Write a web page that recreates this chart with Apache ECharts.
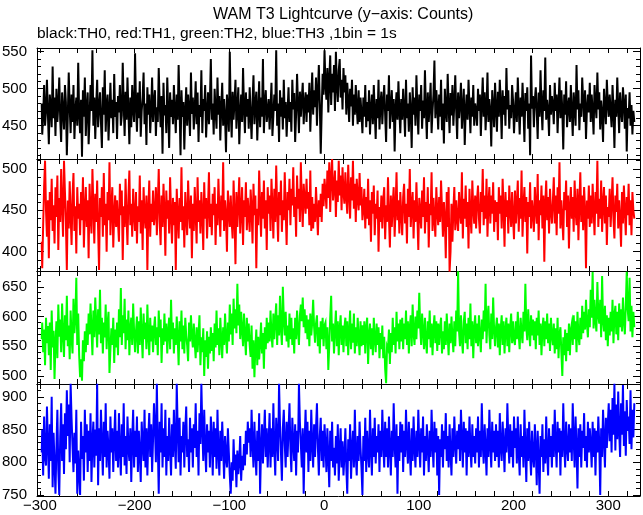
<!DOCTYPE html>
<html>
<head>
<meta charset="utf-8">
<script src="https://cdn.jsdelivr.net/npm/echarts@6/dist/echarts.min.js"></script>
<style>
html,body{margin:0;padding:0;background:#fff;}
#c{width:643px;height:515px;}
</style>
</head>
<body>
<div id="c"></div>
<script>
// ---- data (1 s bins, first bin centred at t = -298 s) ----
const binStart = -298;
const seriesNames = ['TH0', 'TH1', 'TH2', 'TH3'];
const seriesColors = ['#000000', '#ff0000', '#00ff00', '#0000ff'];

const th0 = [
480,438,462,505,450,470,512,466,425,492,475,448,530,460,488,436,500,455,478,515,
458,428,495,470,445,505,482,410,462,522,475,440,492,455,505,432,470,488,450,535,
466,440,485,408,498,462,515,436,475,495,425,460,505,470,552,450,488,432,478,512,
448,475,495,455,420,502,465,525,442,478,492,430,470,508,460,485,440,520,462,482,
432,490,468,505,450,464,535,480,436,496,458,515,470,425,488,448,505,472,455,548,
478,442,495,460,510,435,470,488,522,452,480,424,502,465,492,440,470,515,455,482,
498,436,475,455,528,480,448,490,412,508,464,478,440,515,470,420,495,462,485,452,
505,470,440,492,458,532,475,410,498,462,482,418,470,502,450,492,470,436,522,466,
488,445,472,510,452,495,428,478,462,525,440,486,470,505,434,468,495,452,482,540,
458,480,438,500,470,446,515,465,490,430,474,508,450,486,462,414,492,470,442,550,
470,434,496,458,482,512,446,475,502,425,466,492,455,528,474,440,495,462,486,446,
502,465,432,482,518,452,478,496,430,470,510,448,488,462,540,440,480,498,455,470,
486,445,475,508,436,464,492,470,552,450,480,428,498,462,488,445,512,460,482,435,
470,502,455,482,442,512,472,494,428,466,520,478,440,496,462,486,508,452,480,495,
455,492,468,508,442,485,522,465,498,475,515,450,495,532,480,412,470,520,492,552,
505,485,528,468,512,545,478,520,495,532,470,550,505,482,525,540,488,512,472,528,
495,518,465,508,485,455,500,476,512,450,492,465,505,475,452,498,455,488,466,440,
488,462,505,448,482,456,498,438,474,492,452,505,470,432,486,460,512,445,478,496,
452,482,505,465,428,492,470,518,446,478,498,455,486,415,474,495,458,510,470,440,
486,458,500,472,435,512,460,480,442,495,470,420,502,465,488,450,518,474,438,492,
470,505,446,484,460,525,472,432,495,455,480,508,440,470,492,538,460,498,476,445,
492,462,512,444,480,426,500,470,455,520,476,440,494,464,505,450,480,518,470,432,
495,460,480,508,446,474,500,424,470,492,458,512,476,440,488,462,505,450,480,470,
450,500,470,492,436,480,515,462,495,444,474,522,455,486,470,422,498,476,448,508,
474,442,496,462,512,480,432,498,465,490,450,528,472,498,446,478,460,505,484,440,
470,495,455,515,476,438,488,462,508,472,428,494,470,502,446,480,410,545,473,490,
448,485,502,470,432,495,462,525,476,444,498,470,542,458,485,470,436,505,465,490,
478,452,508,470,492,440,480,515,460,498,472,418,492,465,510,448,476,488,455,505,
470,436,495,476,450,532,472,498,444,480,462,515,484,455,498,432,474,492,468,508,
455,492,470,438,505,480,460,522,472,495,445,484,466,428,500,476,452,512,480,462,
492,470,448,505,472,420,485,462,515,476,440,495,470,455,502,480,446,492,415,474,
460,495,450,478,438,470,455
];

const th1 = [
412,380,432,478,510,450,418,462,392,472,438,488,425,456,410,478,442,492,402,465,
436,500,455,418,510,472,436,378,462,428,485,445,408,468,495,425,455,398,478,440,
458,420,472,438,490,405,452,478,430,462,392,482,445,422,500,455,410,470,436,486,
428,378,465,442,478,418,495,432,458,400,472,438,508,420,455,478,405,446,468,430,
462,436,412,482,444,474,390,455,430,488,442,408,466,498,432,458,418,476,445,425,
472,410,455,436,492,422,462,402,478,444,428,468,378,450,486,418,458,436,474,432,
446,478,420,458,500,436,408,468,430,482,450,395,474,440,462,422,490,445,410,465,
432,460,378,476,444,416,465,436,502,426,455,405,472,442,420,486,450,428,468,392,
458,425,478,445,410,490,436,462,422,472,446,402,484,440,465,416,452,496,430,458,
420,470,444,478,408,458,432,488,450,418,468,438,508,425,462,444,400,474,450,430,
468,436,416,486,446,385,472,430,458,490,422,450,478,408,462,442,484,426,465,444,
424,475,452,410,482,444,468,380,452,432,498,456,418,472,440,486,428,462,402,478,
446,468,425,488,455,416,476,436,504,452,412,472,444,486,424,462,438,496,450,408,
472,450,488,432,476,456,502,442,466,418,492,452,476,436,508,460,430,482,462,446,
488,452,472,432,498,425,466,428,458,436,478,450,420,462,442,470,436,482,455,488,
472,452,498,465,508,448,490,512,462,478,498,442,486,460,510,468,492,450,502,472,
458,496,466,446,505,472,440,490,462,510,452,482,436,488,466,450,495,456,478,438,
452,476,428,466,440,488,432,462,412,472,446,480,420,458,440,474,400,454,436,468,
428,462,478,415,456,436,490,442,405,468,430,458,478,418,452,496,438,462,422,472,
446,420,466,482,434,458,410,476,442,500,430,455,472,416,462,436,484,444,402,465,
450,428,474,442,490,422,460,436,478,405,458,444,496,425,465,440,418,478,448,432,
466,436,486,452,418,460,440,392,472,430,478,376,400,458,412,450,478,426,462,440,
425,472,448,434,496,416,464,440,480,430,460,404,476,446,422,486,452,434,468,428,
462,480,440,422,472,448,500,432,468,440,488,418,458,478,434,468,446,484,424,462,
436,460,414,478,446,468,428,488,452,406,472,442,462,422,480,450,430,472,442,415,
474,434,458,486,424,465,440,498,418,455,478,436,466,398,460,442,484,428,462,446,
424,478,452,434,494,414,462,444,480,428,468,388,458,486,438,466,422,476,450,434,
460,490,434,468,420,478,446,508,428,462,440,414,472,450,486,430,468,404,454,478,
440,466,424,486,450,432,476,414,458,496,436,468,426,478,450,380,462,440,480,430,
468,434,482,452,420,472,446,510,430,464,440,486,424,458,478,434,468,408,454,442,
476,430,458,490,440,416,468,448,482,428,462,440,406,472,434,480,450,420,466,444,
482,432,462,420,472,450,440
];

const th2 = [
562,590,540,578,518,598,555,584,535,590,510,610,548,576,495,556,592,530,620,566,
595,540,622,572,532,602,560,635,550,585,528,610,565,538,630,572,598,665,552,605,
535,498,528,492,560,525,575,540,588,552,605,570,622,580,535,610,565,632,588,548,
612,570,645,555,598,538,590,565,620,545,588,608,505,545,580,552,598,522,578,548,
590,535,612,565,648,552,602,572,630,545,595,560,610,535,580,598,552,622,575,540,
575,600,538,592,552,615,570,530,605,562,590,545,620,568,535,598,558,585,540,580,
600,552,582,535,610,565,595,522,580,552,605,558,588,538,575,598,545,628,562,590,
538,580,552,600,565,518,592,558,610,545,585,538,598,568,552,525,590,558,602,566,
548,588,555,530,582,540,570,602,518,565,540,580,500,560,532,575,512,566,538,582,
542,572,525,588,548,610,552,580,535,598,562,530,582,552,605,565,538,590,558,620,
570,605,552,630,580,612,572,655,585,620,562,608,578,550,605,568,535,598,558,588,
552,532,585,512,560,498,548,578,518,566,528,555,590,538,572,512,582,545,598,555,
590,558,610,570,548,605,562,595,622,552,602,568,635,580,552,650,595,568,608,558,
585,548,605,562,598,552,580,538,598,562,610,578,552,602,620,592,632,582,612,572,
602,562,595,550,605,568,590,628,582,556,588,602,550,582,538,592,562,598,550,585,
590,545,582,510,552,598,635,558,588,538,578,610,550,592,535,580,602,552,585,540,
582,598,550,592,535,575,610,545,588,556,605,538,582,550,598,565,535,592,550,585,
552,592,538,582,598,520,570,588,545,580,535,598,562,540,588,552,582,530,572,545,
585,530,566,512,488,550,545,578,520,572,540,598,552,582,538,608,558,588,545,595,
558,598,545,588,562,610,552,592,538,582,602,550,620,572,552,600,562,610,580,640,
582,552,605,575,545,598,558,538,592,562,610,548,588,535,580,602,555,592,542,588,
552,582,598,538,575,545,592,552,605,568,535,588,555,600,565,540,592,550,610,575,
676,575,550,602,562,538,592,608,555,588,545,598,562,622,550,592,530,580,602,555,
588,550,602,568,540,595,562,610,575,655,555,598,618,568,545,605,562,632,578,550,
582,598,548,588,535,580,602,552,592,538,578,598,550,588,540,582,605,555,592,562,
552,592,562,608,568,545,598,572,555,608,575,655,582,560,612,578,550,602,568,595,
560,592,545,598,568,610,552,588,535,580,598,550,592,562,605,555,588,542,598,568,
552,588,538,580,545,598,530,570,582,540,500,565,535,578,525,572,542,588,535,578,
588,552,602,562,592,540,608,568,552,598,562,618,572,608,578,628,588,565,612,582,
645,598,675,580,628,592,575,658,602,588,628,565,668,592,575,618,560,602,550,598,
568,608,575,628,555,602,618,570,608,560,622,582,612,575,632,592,570,618,675,612,
592,665,575,618,565,608,582
];

const th3 = [
815,850,780,870,808,795,885,828,775,858,802,900,762,845,798,752,822,880,788,750,
838,890,802,858,782,875,820,910,840,888,800,920,866,825,785,845,798,880,752,818,
782,750,862,805,840,772,880,815,858,785,848,802,875,770,832,862,792,850,810,920,
765,852,802,880,828,780,862,808,890,792,848,820,775,870,815,852,785,835,880,802,
848,792,875,820,780,858,808,890,795,840,782,870,822,802,852,770,835,880,792,848,
808,870,785,848,815,770,862,828,802,880,792,852,780,838,875,808,858,785,835,890,
852,800,920,828,752,862,815,890,792,852,808,880,780,840,802,868,822,780,858,808,
880,828,790,920,852,800,868,780,840,815,862,792,848,885,808,835,785,868,815,852,
792,858,822,890,808,848,780,875,828,920,852,802,880,822,785,858,815,848,792,870,
835,780,862,808,852,790,880,815,780,848,802,862,822,775,840,808,792,852,815,780,
752,800,772,835,788,812,762,818,782,800,840,772,810,788,828,795,848,812,862,830,
852,808,880,828,792,862,815,780,848,802,875,752,822,858,798,840,880,808,852,792,
832,875,792,852,808,890,822,780,868,838,802,920,858,815,772,852,880,828,792,862,
808,848,890,822,785,868,830,802,858,780,848,815,920,862,828,792,852,752,832,880,
815,862,785,848,802,880,828,792,858,808,852,890,822,780,840,868,802,848,792,858,
828,785,852,808,762,848,802,862,792,822,780,840,798,858,772,818,852,792,832,780,
810,852,792,752,835,802,858,775,822,848,792,880,810,780,840,802,862,822,792,750,
840,802,868,785,848,815,792,880,822,780,852,808,868,798,840,815,858,785,848,808,
880,830,792,862,808,852,792,870,822,780,848,808,890,828,792,858,752,840,802,862,
815,858,785,848,808,880,828,798,862,815,780,852,802,870,822,792,848,808,880,828,
792,852,815,870,780,840,802,858,822,785,848,808,880,828,792,862,815,852,780,840,
750,835,808,858,792,848,820,875,802,840,792,858,815,780,852,808,870,828,798,848,
820,858,802,880,835,792,862,815,852,780,848,808,870,822,792,858,808,840,798,852,
815,870,792,848,808,890,828,798,858,822,780,852,808,880,828,792,862,815,848,802,
858,808,848,792,875,822,802,862,828,785,852,815,890,835,798,858,808,848,792,870,
822,852,798,870,815,780,858,808,840,792,880,822,770,852,802,862,815,780,848,808,
792,858,822,765,848,802,752,840,808,858,785,835,798,870,815,780,852,808,840,792,
858,808,880,828,792,862,815,852,780,848,808,890,828,792,862,822,802,858,815,852,
802,890,835,792,870,822,760,852,808,858,792,848,822,875,802,840,792,862,815,852,
828,792,862,808,852,780,848,815,870,828,750,852,808,880,835,792,868,822,858,890,
832,880,815,898,842,920,818,888,835,908,848,808,890,842,918,825,878,810,895,848,
870,828,910,820,880,838,890
];

// ---- axis labels ----
const xTickLabels = [-300, -200, -100, 0, 100, 200, 300];
const yTickLabels = [
  [450, 500, 550],
  [400, 450, 500],
  [500, 550, 600, 650],
  [750, 800, 850, 900]
];
const titleText = 'WAM T3 Lightcurve (y\u2212axis: Counts)';
const subtitleText = 'black:TH0, red:TH1, green:TH2, blue:TH3 ,1bin = 1s';

// ---- layout / scales ----
const panelValues = [th0, th1, th2, th3];
const yRanges = [[405, 555], [376.7, 512], [486.5, 676.5], [748.5, 919.5]];
const gridTops = [48, 159, 271, 384];
const gridHeights = [111, 112, 113, 112];
const X_MIN = -303, X_MAX = 333.5;
const FONT = '"Liberation Sans", Arial, Helvetica, sans-serif';

function range(a, b, s) { const r = []; for (let v = a; v <= b + 1e-9; v += s) r.push(v); return r; }
const xTicks = range(-300, 320, 20);
const fmtX = v => (v < 0 ? '\u2212' + Math.abs(v) : String(v));

const grids = [], xAxes = [], yAxes = [], series = [];
for (let k = 0; k < 8; k++) {
  const i = k % 4;
  grids.push({ left: 37, width: 603, top: gridTops[i], height: gridHeights[i], containLabel: false, outerBoundsMode: 'none' });
}
const axisLineStyle = { color: '#000', width: 1 };
for (let i = 0; i < 4; i++) {
  xAxes.push({
    type: 'value', gridIndex: i, position: 'bottom', min: X_MIN, max: X_MAX,
    axisLine: { show: true, onZero: false, lineStyle: axisLineStyle },
    axisTick: { show: true, inside: true, length: 5, customValues: xTicks, lineStyle: axisLineStyle },
    axisLabel: i === 3 ? { show: true, customValues: xTickLabels, formatter: fmtX, color: '#000', fontSize: 15, fontFamily: FONT, margin: 2, hideOverlap: false, showMinLabel: true, showMaxLabel: true } : { show: false },
    splitLine: { show: false }
  });
  xAxes.push({
    type: 'value', gridIndex: i, position: 'top', min: X_MIN, max: X_MAX,
    axisLine: { show: true, onZero: false, lineStyle: axisLineStyle },
    axisTick: { show: true, inside: true, length: 5, customValues: xTicks, lineStyle: axisLineStyle },
    axisLabel: { show: false },
    splitLine: { show: false }
  });
  const [mn, mx] = yRanges[i];
  yAxes.push({
    type: 'value', gridIndex: i, position: 'left', min: mn, max: mx,
    axisLine: { show: true, onZero: false, lineStyle: axisLineStyle },
    axisTick: { show: true, inside: true, length: 7, customValues: yTickLabels[i], lineStyle: axisLineStyle },
    axisLabel: { show: true, customValues: yTickLabels[i], color: '#000', fontSize: 15, fontFamily: FONT, margin: 10 },
    splitLine: { show: false }
  });
  yAxes.push({
    type: 'value', gridIndex: i, position: 'right', min: mn, max: mx,
    axisLine: { show: true, onZero: false, lineStyle: axisLineStyle },
    axisTick: { show: true, inside: true, length: 7, customValues: yTickLabels[i], lineStyle: axisLineStyle },
    axisLabel: { show: false },
    splitLine: { show: false }
  });
}
for (let i = 0; i < 4; i++) {
  const [mn, mx] = yRanges[i];
  const minor = range(Math.ceil(mn / 10) * 10, Math.floor(mx / 10) * 10, 10);
  xAxes.push({ type: 'value', gridIndex: 4 + i, min: X_MIN, max: X_MAX, show: false, axisLine: { onZero: false } });
  yAxes.push({
    type: 'value', gridIndex: 4 + i, position: 'left', min: mn, max: mx,
    axisLine: { show: false, onZero: false },
    axisTick: { show: true, inside: true, length: 4, customValues: minor, lineStyle: axisLineStyle },
    axisLabel: { show: false }, splitLine: { show: false }
  });
  yAxes.push({
    type: 'value', gridIndex: 4 + i, position: 'right', min: mn, max: mx,
    axisLine: { show: false, onZero: false },
    axisTick: { show: true, inside: true, length: 4, customValues: minor, lineStyle: axisLineStyle },
    axisLabel: { show: false }, splitLine: { show: false }
  });
}
for (let i = 0; i < 4; i++) {
  series.push({
    name: seriesNames[i], type: 'line', xAxisIndex: 2 * i, yAxisIndex: 2 * i,
    data: panelValues[i].map((v, k) => [binStart + k, v]),
    step: 'middle', showSymbol: false, symbol: 'none', silent: true,
    lineStyle: { width: 2, color: seriesColors[i], join: 'miter', cap: 'butt' }, itemStyle: { color: seriesColors[i] },
    clip: true, animation: false, z: 1
  });
}

const chart = echarts.init(document.getElementById('c'), null, { renderer: 'canvas' });
chart.setOption({
  animation: false,
  backgroundColor: '#ffffff',
  title: [
    { text: titleText, left: 213, top: 7, textStyle: { fontSize: 16, fontWeight: 'normal', color: '#000', fontFamily: FONT }, padding: 0 },
    { text: subtitleText, left: 37, top: 26, textStyle: { fontSize: 15.5, fontWeight: 'normal', color: '#000', fontFamily: FONT }, padding: 0 }
  ],
  grid: grids,
  xAxis: xAxes,
  yAxis: yAxes,
  series: series
});
</script>
</body>
</html>
